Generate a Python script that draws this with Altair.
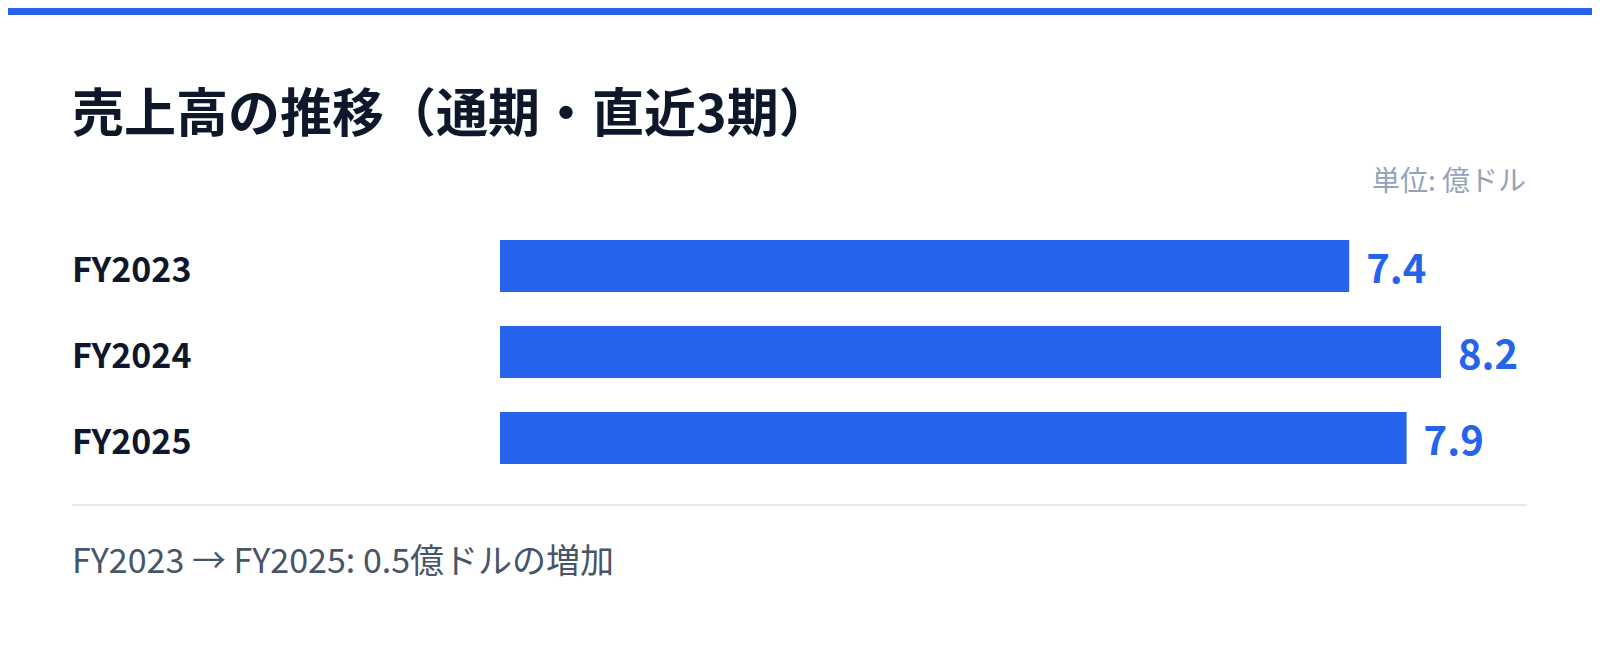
import altair as alt
import pandas as pd

# ---- data ----
years = ["FY2023", "FY2024", "FY2025"]
sales = [7.4, 8.2, 7.9]
title_text = "売上高の推移（通期・直近3期）"
unit_text = "単位: 億ドル"
diff = round(sales[-1] - sales[0], 1)
footer_text = f"{years[0]} → {years[-1]}: {diff}億ドルの増加"

FONT = "Noto Sans CJK JP"
BLUE = "#2563eb"
W, H = 1584, 620

df = pd.DataFrame({"year": years, "value": sales})

xscale = alt.Scale(domain=[0, max(sales)], range=[492, 1433])
yscale = alt.Scale(domain=years, range=[215, 473], paddingInner=34 / 86, paddingOuter=17 / 86)

base = alt.Chart(df)

band = alt.Chart(pd.DataFrame({"k": [1]})).mark_rect(color=BLUE).encode(
    x=alt.value(0), x2=alt.value(W), y=alt.value(0), y2=alt.value(7)
)

bars = base.mark_bar(color=BLUE, height=52).encode(
    x=alt.X("value:Q", scale=xscale, axis=None),
    y=alt.Y("year:N", scale=yscale, axis=None, sort=years),
)

values = base.mark_text(
    align="left", baseline="alphabetic", dx=17, dy=17,
    font=FONT, fontSize=40, fontWeight="bold", color=BLUE,
).encode(
    x=alt.X("value:Q", scale=xscale, axis=None),
    y=alt.Y("year:N", scale=yscale, axis=None, sort=years),
    text=alt.Text("value:Q", format=".1f"),
)

labels = base.mark_text(
    align="left", baseline="alphabetic", dy=16,
    font=FONT, fontSize=34, fontWeight="bold", color="#0f172a",
).encode(
    x=alt.value(64),
    y=alt.Y("year:N", scale=yscale, axis=None, sort=years),
    text="year:N",
)

title = alt.Chart(pd.DataFrame({"t": [title_text]})).mark_text(
    align="left", baseline="alphabetic",
    font=FONT, fontSize=52, fontWeight="bold", color="#0f172a",
).encode(x=alt.value(64), y=alt.value(124), text="t:N")

unit = alt.Chart(pd.DataFrame({"t": [unit_text]})).mark_text(
    align="right", baseline="alphabetic",
    font=FONT, fontSize=28, color="#94a3b8",
).encode(x=alt.value(1518), y=alt.value(183), text="t:N")

sep = alt.Chart(pd.DataFrame({"k": [1]})).mark_rect(color="#e2e8f0").encode(
    x=alt.value(64), x2=alt.value(1519), y=alt.value(496), y2=alt.value(498)
)

footer = alt.Chart(pd.DataFrame({"t": [footer_text]})).mark_text(
    align="left", baseline="alphabetic",
    font=FONT, fontSize=34, color="#475569",
).encode(x=alt.value(64), y=alt.value(565), text="t:N")

chart = alt.layer(band, bars, values, labels, title, unit, sep, footer).properties(
    width=W, height=H,
    autosize=alt.AutoSizeParams(type="none"),
    padding=0,
).configure_view(strokeWidth=0, stroke="transparent")

chart.save("out.html", embed_options={"renderer": "svg", "actions": False})
